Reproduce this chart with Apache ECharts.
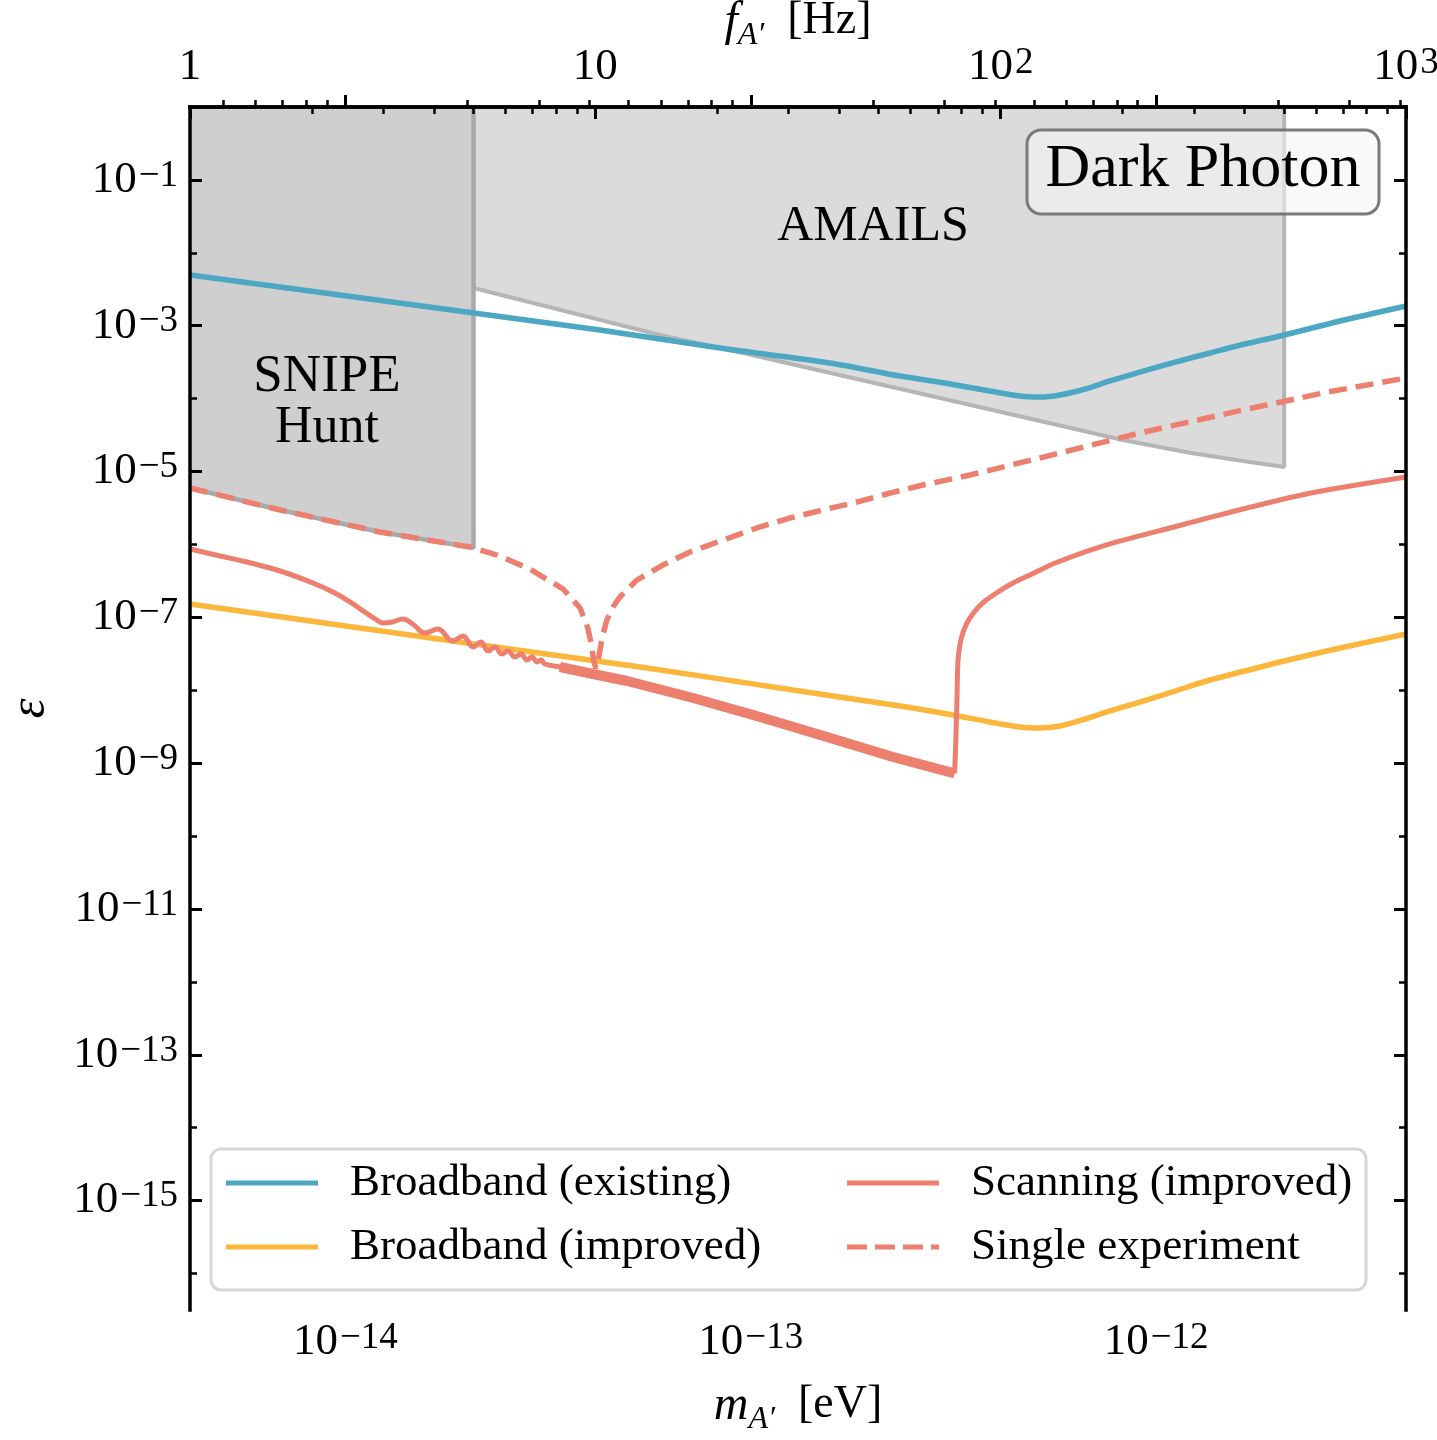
<!DOCTYPE html>
<html><head><meta charset="utf-8">
<script src="https://cdn.jsdelivr.net/npm/echarts@6.0.0/dist/echarts.min.js"></script>
<style>html,body{margin:0;padding:0;background:#fff}#c{width:1437px;height:1440px}</style>
</head><body><div id="c"></div>
<script>
// All values: [log10(m_A' / eV), log10(epsilon)]
const broadbandExisting = [[-14.383,-2.304],[-13.683,-2.826],[-13.372,-3.059],[-13.059,-3.319],[-12.805,-3.511],[-12.632,-3.690],[-12.508,-3.799],[-12.410,-3.895],[-12.336,-3.964],[-12.286,-3.978],[-12.237,-3.950],[-12.175,-3.868],[-12.114,-3.758],[-12.040,-3.635],[-11.953,-3.498],[-11.867,-3.374],[-11.781,-3.251],[-11.694,-3.141],[-11.546,-2.935],[-11.383,-2.729]];
const broadbandImproved = [[-14.383,-6.817],[-13.683,-7.366],[-13.273,-7.681],[-12.896,-7.996],[-12.632,-8.216],[-12.501,-8.339],[-12.410,-8.435],[-12.336,-8.504],[-12.286,-8.518],[-12.237,-8.490],[-12.175,-8.394],[-12.114,-8.284],[-12.040,-8.161],[-11.953,-8.010],[-11.867,-7.859],[-11.781,-7.736],[-11.694,-7.612],[-11.546,-7.420],[-11.383,-7.228]];
const scanningLow = [[-14.383,-6.062],[-14.309,-6.158],[-14.243,-6.241],[-14.161,-6.364],[-14.080,-6.529],[-14.026,-6.666],[-13.989,-6.789],[-13.952,-6.927],[-13.927,-7.022],[-13.907,-7.077],[-13.885,-7.064],[-13.858,-7.022],[-13.831,-7.105],[-13.804,-7.215],[-13.772,-7.160],[-13.735,-7.324],[-13.710,-7.256],[-13.685,-7.407],[-13.666,-7.338],[-13.648,-7.461],[-13.631,-7.407],[-13.614,-7.503],[-13.599,-7.461],[-13.582,-7.544],[-13.567,-7.503],[-13.552,-7.585],[-13.540,-7.544],[-13.527,-7.612],[-13.517,-7.585],[-13.508,-7.640],[-13.471,-7.681],[-13.389,-7.777]];
const scanningBand = [[-13.471,-7.681],[-13.389,-7.777],[-13.305,-7.873],[-13.142,-8.106],[-12.977,-8.367],[-12.812,-8.641],[-12.649,-8.915],[-12.497,-9.140]];
const scanningHigh = [[-12.497,-9.140],[-12.494,-8.682],[-12.491,-8.065],[-12.489,-7.612],[-12.484,-7.379],[-12.476,-7.201],[-12.464,-7.050],[-12.447,-6.913],[-12.422,-6.776],[-12.390,-6.652],[-12.353,-6.529],[-12.306,-6.405],[-12.249,-6.254],[-12.124,-6.008],[-11.956,-5.761],[-11.786,-5.514],[-11.618,-5.294],[-11.383,-5.075]];
const singleExperiment = [[-14.383,-5.226],[-14.161,-5.527],[-13.915,-5.829],[-13.693,-6.035],[-13.626,-6.145],[-13.545,-6.337],[-13.463,-6.611],[-13.421,-6.872],[-13.402,-7.146],[-13.392,-7.407],[-13.387,-7.612],[-13.382,-7.695],[-13.377,-7.612],[-13.372,-7.448],[-13.365,-7.242],[-13.355,-7.036],[-13.340,-6.858],[-13.323,-6.721],[-13.281,-6.488],[-13.217,-6.282],[-13.150,-6.104],[-13.068,-5.939],[-12.985,-5.774],[-12.903,-5.637],[-12.822,-5.527],[-12.738,-5.418],[-12.656,-5.294],[-12.575,-5.185],[-12.459,-5.047],[-12.291,-4.820],[-12.040,-4.471],[-11.786,-4.156],[-11.576,-3.909],[-11.383,-3.717]];
const snipeHunt = [[-14.383,-5.226],[-14.161,-5.527],[-13.915,-5.829],[-13.684,-6.045],[-13.684,0]];
const amails = [[-13.684,-2.483],[-13.224,-3.127],[-13.019,-3.374],[-12.533,-3.991],[-12.082,-4.567],[-11.914,-4.746],[-11.786,-4.855],[-11.684,-4.938],[-11.684,0]];

const xMajorTicks = [-14,-13,-12];          // log10 m
const fMajorTicks = [0,1,2,3];              // log10 f
const yMajorTicks = [-1,-3,-5,-7,-9,-11,-13,-15];
const yMinorTicks = [-2,-4,-6,-8,-10,-12,-14,-16];
const legendLeft = ['Broadband (existing)','Broadband (improved)'];
const legendRight = ['Scanning (improved)','Single experiment'];

const H_EV = 4.1357e-15;
const X_MIN = Math.log10(H_EV), X_MAX = X_MIN + 3;
const Y_MIN = -16.5, Y_MAX = 0;
const FONT = 'Liberation Serif';
const BLUE = '#4ca7c3', ORANGE = '#fdb63c', RED = '#ed7f6f';
const DASH_ICON = 'path://M0,0h20v5h-20zM28,0h20v5h-20zM56,0h20v5h-20zM84,0h8v5h-8z';

const xMinorTicks = [];
for (let n = -15; n <= -12; n++) for (let k = 2; k <= 9; k++) {
  const v = n + Math.log10(k);
  if (v > X_MIN && v < X_MAX) xMinorTicks.push(v);
}
const fMinorTicks = [];
for (let n = 0; n <= 2; n++) for (let k = 2; k <= 9; k++) fMinorTicks.push(n + Math.log10(k));

const tickRich = {
  b: {fontFamily: FONT, fontSize: 45, lineHeight: 45, verticalAlign: 'bottom', color: '#000'},
  s: {fontFamily: FONT, fontSize: 37, lineHeight: 37, verticalAlign: 'top', padding: [0,0,18,2], color: '#000'}
};
const nameRich = {
  i: {fontFamily: FONT, fontStyle: 'italic', fontSize: 48, lineHeight: 48, verticalAlign: 'top', color: '#000'},
  sub: {fontFamily: FONT, fontStyle: 'italic', fontSize: 32, lineHeight: 32, padding: [22,0,0,0], verticalAlign: 'top', color: '#000'},
  r: {fontFamily: FONT, fontSize: 46, lineHeight: 48, verticalAlign: 'top', color: '#000'}
};
const FRAME = {show: true, lineStyle: {color: '#000', width: 3.5, cap: 'square'}};

function xAx(o) {
  return Object.assign({type: 'value', min: X_MIN, max: X_MAX, gridIndex: 0, z: 10, splitLine: {show: false},
    axisLine: {show: false}, axisLabel: {show: false}, nameMoveOverlap: false}, o);
}
function yAx(o) {
  return Object.assign({type: 'value', min: Y_MIN, max: Y_MAX, gridIndex: 0, z: 10, splitLine: {show: false},
    axisLine: {show: false}, axisLabel: {show: false}, nameMoveOverlap: false}, o);
}
const legendText = {fontFamily: FONT, fontSize: 45, lineHeight: 50, color: '#000', padding: [0,0,0,27]};

const chart = echarts.init(document.getElementById('c'));
chart.setOption({
  animation: false,
  backgroundColor: '#fff',
  textStyle: {fontFamily: FONT},
  grid: {left: 190, top: 107, width: 1216, height: 1203, containLabel: false, outerBoundsMode: 'none'},
  xAxis: [
    xAx({position: 'bottom', axisLine: FRAME,
      axisTick: {show: true, inside: true, length: 12, lineStyle: {color: '#000', width: 3}, customValues: xMajorTicks},
      axisLabel: {show: true, customValues: xMajorTicks, margin: 10, showMinLabel: true, showMaxLabel: true,
        formatter: v => '{b|10}{s|\u2212' + Math.round(-v) + '}', rich: tickRich},
      name: '{i|m}{sub|A\u2032}{r|  [eV]}', nameLocation: 'middle', nameGap: 72, nameTextStyle: {rich: nameRich}}),
    xAx({position: 'bottom', axisTick: {show: true, inside: true, length: 7, lineStyle: {color: '#000', width: 2.5}, customValues: xMinorTicks}}),
    xAx({position: 'top', min: 0, max: 3, axisLine: FRAME,
      axisTick: {show: true, inside: true, length: 12, lineStyle: {color: '#000', width: 3}, customValues: fMajorTicks},
      axisLabel: {show: true, customValues: fMajorTicks, margin: 17, showMinLabel: true, showMaxLabel: true,
        formatter: v => { const n = Math.round(v); return n === 0 ? '{b|1}' : n === 1 ? '{b|10}' : '{b|10}{s|' + n + '}'; }, rich: tickRich},
      name: '{i|f}{sub|A\u2032}{r|  [Hz]}', nameLocation: 'middle', nameGap: 61, nameTextStyle: {rich: nameRich}}),
    xAx({position: 'top', min: 0, max: 3, axisTick: {show: true, inside: true, length: 7, lineStyle: {color: '#000', width: 2.5}, customValues: fMinorTicks}})
  ],
  yAxis: [
    yAx({position: 'left', axisLine: FRAME,
      axisTick: {show: true, inside: true, length: 12, lineStyle: {color: '#000', width: 3}, customValues: yMajorTicks},
      axisLabel: {show: true, customValues: yMajorTicks, margin: 12,
        formatter: v => '{b|10}{s|\u2212' + Math.round(-v) + '}', rich: tickRich},
      name: '\u03b5', nameLocation: 'middle', nameGap: 134, nameRotate: 90,
      nameTextStyle: {fontFamily: FONT, fontStyle: 'italic', fontSize: 50, color: '#000'}}),
    yAx({position: 'left', axisTick: {show: true, inside: true, length: 7, lineStyle: {color: '#000', width: 2.5}, customValues: yMinorTicks}}),
    yAx({position: 'right', axisLine: FRAME,
      axisTick: {show: true, inside: true, length: 12, lineStyle: {color: '#000', width: 3}, customValues: yMajorTicks}}),
    yAx({position: 'right', axisTick: {show: true, inside: true, length: 7, lineStyle: {color: '#000', width: 2.5}, customValues: yMinorTicks}})
  ],
  legend: [
    {data: [{name: legendLeft[0], icon: 'rect'}, {name: legendLeft[1], icon: 'rect'}],
      orient: 'vertical', left: 226, top: 1158, itemWidth: 92, itemHeight: 5, itemGap: 14, padding: 0, z: 6,
      selectedMode: false, itemStyle: {borderWidth: 0}, textStyle: legendText},
    {data: [{name: legendRight[0], icon: 'rect'}, {name: legendRight[1], icon: DASH_ICON}],
      orient: 'vertical', left: 847, top: 1158, itemWidth: 92, itemHeight: 5, itemGap: 14, padding: 0, z: 6,
      selectedMode: false, itemStyle: {borderWidth: 0}, textStyle: legendText}
  ],
  series: [
    {name: 'AMAILS', type: 'line', data: amails, symbol: 'none', silent: true, z: 1,
      lineStyle: {color: '#b5b5b5', width: 4}, areaStyle: {color: '#dbdbdb', opacity: 1, origin: 'end'}},
    {name: 'SNIPE Hunt', type: 'line', data: snipeHunt, symbol: 'none', silent: true, z: 1,
      lineStyle: {color: '#a9a9a9', width: 4.5}, areaStyle: {color: '#cfcfcf', opacity: 1, origin: 'end'}},
    {name: 'Broadband (existing)', type: 'line', data: broadbandExisting, symbol: 'none', smooth: 0.3, z: 2,
      color: BLUE, lineStyle: {color: BLUE, width: 5.5}},
    {name: 'Broadband (improved)', type: 'line', data: broadbandImproved, symbol: 'none', smooth: 0.3, z: 2,
      color: ORANGE, lineStyle: {color: ORANGE, width: 5.5}},
    {name: 'Scanning (improved)', type: 'line', data: scanningLow, symbol: 'none', smooth: 0.4, z: 2,
      color: RED, lineStyle: {color: RED, width: 5}},
    {name: 'Scanning band', type: 'line', data: scanningBand, symbol: 'none', z: 2,
      color: RED, lineStyle: {color: RED, width: 10}},
    {name: 'Scanning high', type: 'line', data: scanningHigh, symbol: 'none', smooth: 0.25, z: 2,
      color: RED, lineStyle: {color: RED, width: 5}},
    {name: 'Single experiment', type: 'line', data: singleExperiment, symbol: 'none', z: 3,
      color: RED, lineStyle: {color: RED, width: 5.5, type: [18, 9]}}
  ],
  graphic: [
    {type: 'rect', z: 3, shape: {x: 211, y: 1149, width: 1155, height: 141, r: 10},
      style: {fill: 'rgba(255,255,255,0.85)', stroke: '#d6d6d6', lineWidth: 3}},
    {type: 'rect', z: 5, shape: {x: 1027, y: 130, width: 352, height: 84, r: 14},
      style: {fill: 'rgba(245,245,245,0.6)', stroke: '#7a7a7a', lineWidth: 3}},
    {type: 'text', z: 6, x: 1203, y: 170, style: {text: 'Dark Photon', fontFamily: FONT, fontSize: 62, fill: '#000',
      align: 'center', verticalAlign: 'middle', textAlign: 'center', textVerticalAlign: 'middle'}},
    {type: 'text', z: 6, x: 327, y: 377, style: {text: 'SNIPE', fontFamily: FONT, fontSize: 53, fill: '#000',
      align: 'center', verticalAlign: 'middle', textAlign: 'center', textVerticalAlign: 'middle'}},
    {type: 'text', z: 6, x: 327, y: 428, style: {text: 'Hunt', fontFamily: FONT, fontSize: 52, fill: '#000',
      align: 'center', verticalAlign: 'middle', textAlign: 'center', textVerticalAlign: 'middle'}},
    {type: 'text', z: 6, x: 873, y: 227, style: {text: 'AMAILS', fontFamily: FONT, fontSize: 50, fill: '#000',
      align: 'center', verticalAlign: 'middle', textAlign: 'center', textVerticalAlign: 'middle'}}
  ]
});
</script></body></html>
